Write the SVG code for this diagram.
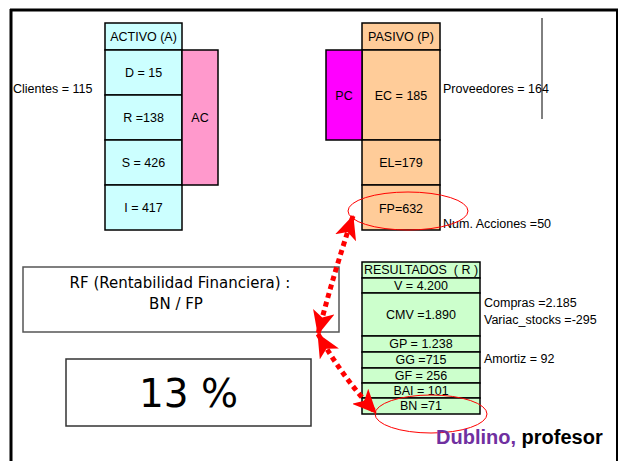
<svg xmlns="http://www.w3.org/2000/svg" width="620" height="461" viewBox="0 0 620 461">
<style>
  text { font-family: "Liberation Sans", Arial, sans-serif; font-size: 12.5px; fill: #000; }
  .c { text-anchor: middle; }
  .box { stroke: #000; stroke-width: 1.5; }
  .act { fill: #CCFFFF; }
  .pas { fill: #FFCC99; }
  .res { fill: #CCFFCC; }
  .ac { fill: #FF99CC; }
  .pc { fill: #FF00FF; }
  .hl { fill: none; stroke: #FF0000; stroke-width: 1; }
  .frm { fill: #fff; stroke: #555; stroke-width: 1.5; }
  text.comic { font-family: "DejaVu Sans", "Liberation Sans", sans-serif; font-size: 15px; }
  text.big { font-size: 39px; }
  .arr { fill: none; stroke: #FF0000; stroke-width: 5; stroke-dasharray: 5 4; }
</style>
<defs>
  <marker id="head" viewBox="0 0 24 22" refX="23" refY="11" markerWidth="24" markerHeight="22" markerUnits="userSpaceOnUse" orient="auto-start-reverse">
    <path d="M0,0 L24,11 L0,22 L6,11 z" fill="#FF0000"/>
  </marker>
</defs>
<rect width="620" height="461" fill="#fff"/>
<g id="frame">
  <line x1="11" y1="9" x2="11" y2="461" stroke="#000" stroke-width="3"/>
  <line x1="10" y1="10" x2="618" y2="10" stroke="#000" stroke-width="3"/>
  <line x1="617" y1="9" x2="617" y2="461" stroke="#000" stroke-width="2"/>
  <line x1="542" y1="18" x2="542" y2="119" stroke="#000" stroke-width="1"/>
</g>
<g id="activo">
  <rect class="box act" x="105" y="23" width="77" height="27"/>
  <text class="c" x="143.5" y="41">ACTIVO (A)</text>
  <rect class="box act" x="105" y="50" width="77" height="45"/>
  <text class="c" x="143.5" y="77">D = 15</text>
  <rect class="box act" x="105" y="95" width="77" height="45"/>
  <text class="c" x="143.5" y="122">R =138</text>
  <rect class="box act" x="105" y="140" width="77" height="45"/>
  <text class="c" x="143.5" y="167">S = 426</text>
  <rect class="box act" x="105" y="185" width="77" height="45"/>
  <text class="c" x="143.5" y="212">I = 417</text>
</g>
<g id="ac">
  <rect class="box ac" x="182" y="50" width="36" height="135"/>
  <text class="c" x="200" y="122">AC</text>
</g>
<g id="clientes"><text x="13" y="93">Clientes = 115</text></g>
<g id="pasivo">
  <rect class="box pas" x="362" y="23" width="78" height="27"/>
  <text class="c" x="401" y="41">PASIVO (P)</text>
  <rect class="box pas" x="362" y="50" width="78" height="90"/>
  <text class="c" x="401" y="100">EC = 185</text>
  <rect class="box pas" x="362" y="140" width="78" height="45"/>
  <text class="c" x="401" y="167">EL=179</text>
  <rect class="box pas" x="362" y="185" width="78" height="45"/>
  <text class="c" x="401" y="213">FP=632</text>
</g>
<g id="pc">
  <rect class="box pc" x="326" y="50" width="36" height="90"/>
  <text class="c" x="344" y="100">PC</text>
</g>
<g id="proveedores"><text x="443" y="93">Proveedores = 164</text></g>
<g id="acciones"><text x="443" y="228">Num. Acciones =50</text></g>
<g id="resultados">
  <rect class="box res" x="362" y="262" width="118" height="16"/>
  <text class="c" x="421" y="274" style="white-space:pre">RESULTADOS  ( R )</text>
  <rect class="box res" x="362" y="278" width="118" height="15"/>
  <text class="c" x="421" y="290">V = 4.200</text>
  <rect class="box res" x="362" y="293" width="118" height="43"/>
  <text class="c" x="421" y="319">CMV =1.890</text>
  <rect class="box res" x="362" y="336" width="118" height="16"/>
  <text class="c" x="421" y="348">GP = 1.238</text>
  <rect class="box res" x="362" y="352" width="118" height="16"/>
  <text class="c" x="421" y="364">GG =715</text>
  <rect class="box res" x="362" y="368" width="118" height="15"/>
  <text class="c" x="421" y="380">GF = 256</text>
  <rect class="box res" x="362" y="383" width="118" height="15"/>
  <text class="c" x="421" y="395">BAI = 101</text>
  <rect class="box res" x="362" y="398" width="118" height="16"/>
  <text class="c" x="421" y="410">BN =71</text>
</g>
<g id="notes">
  <text x="484" y="307">Compras =2.185</text>
  <text x="484" y="324">Variac_stocks =-295</text>
  <text x="484" y="363">Amortiz = 92</text>
</g>
<g id="rf">
  <rect class="frm" x="23" y="267" width="316" height="65"/>
  <text class="c comic" x="180" y="288">RF (Rentabilidad Financiera) :</text>
  <text class="c comic" x="176" y="309">BN / FP</text>
</g>
<g id="result13">
  <rect class="frm" x="66" y="359" width="245" height="67" style="stroke:#333"/>
  <text class="c comic big" x="188.5" y="407">13 %</text>
</g>
<g id="highlights">
  <ellipse class="hl" cx="408" cy="211" rx="60" ry="19"/>
  <ellipse class="hl" cx="431" cy="414" rx="56" ry="19"/>
</g>
<g id="connectors">
  <path class="arr" d="M353,216 Q334,272 318,334" marker-start="url(#head)" marker-end="url(#head)"/>
  <path class="arr" d="M318,334 Q343,378 376,413" marker-start="url(#head)" marker-end="url(#head)"/>
</g>
<g id="author">
  <text x="436" y="444" style="font-size:20px;font-weight:bold"><tspan fill="#7030A0">Dublino,</tspan> profesor</text>
</g>
</svg>
